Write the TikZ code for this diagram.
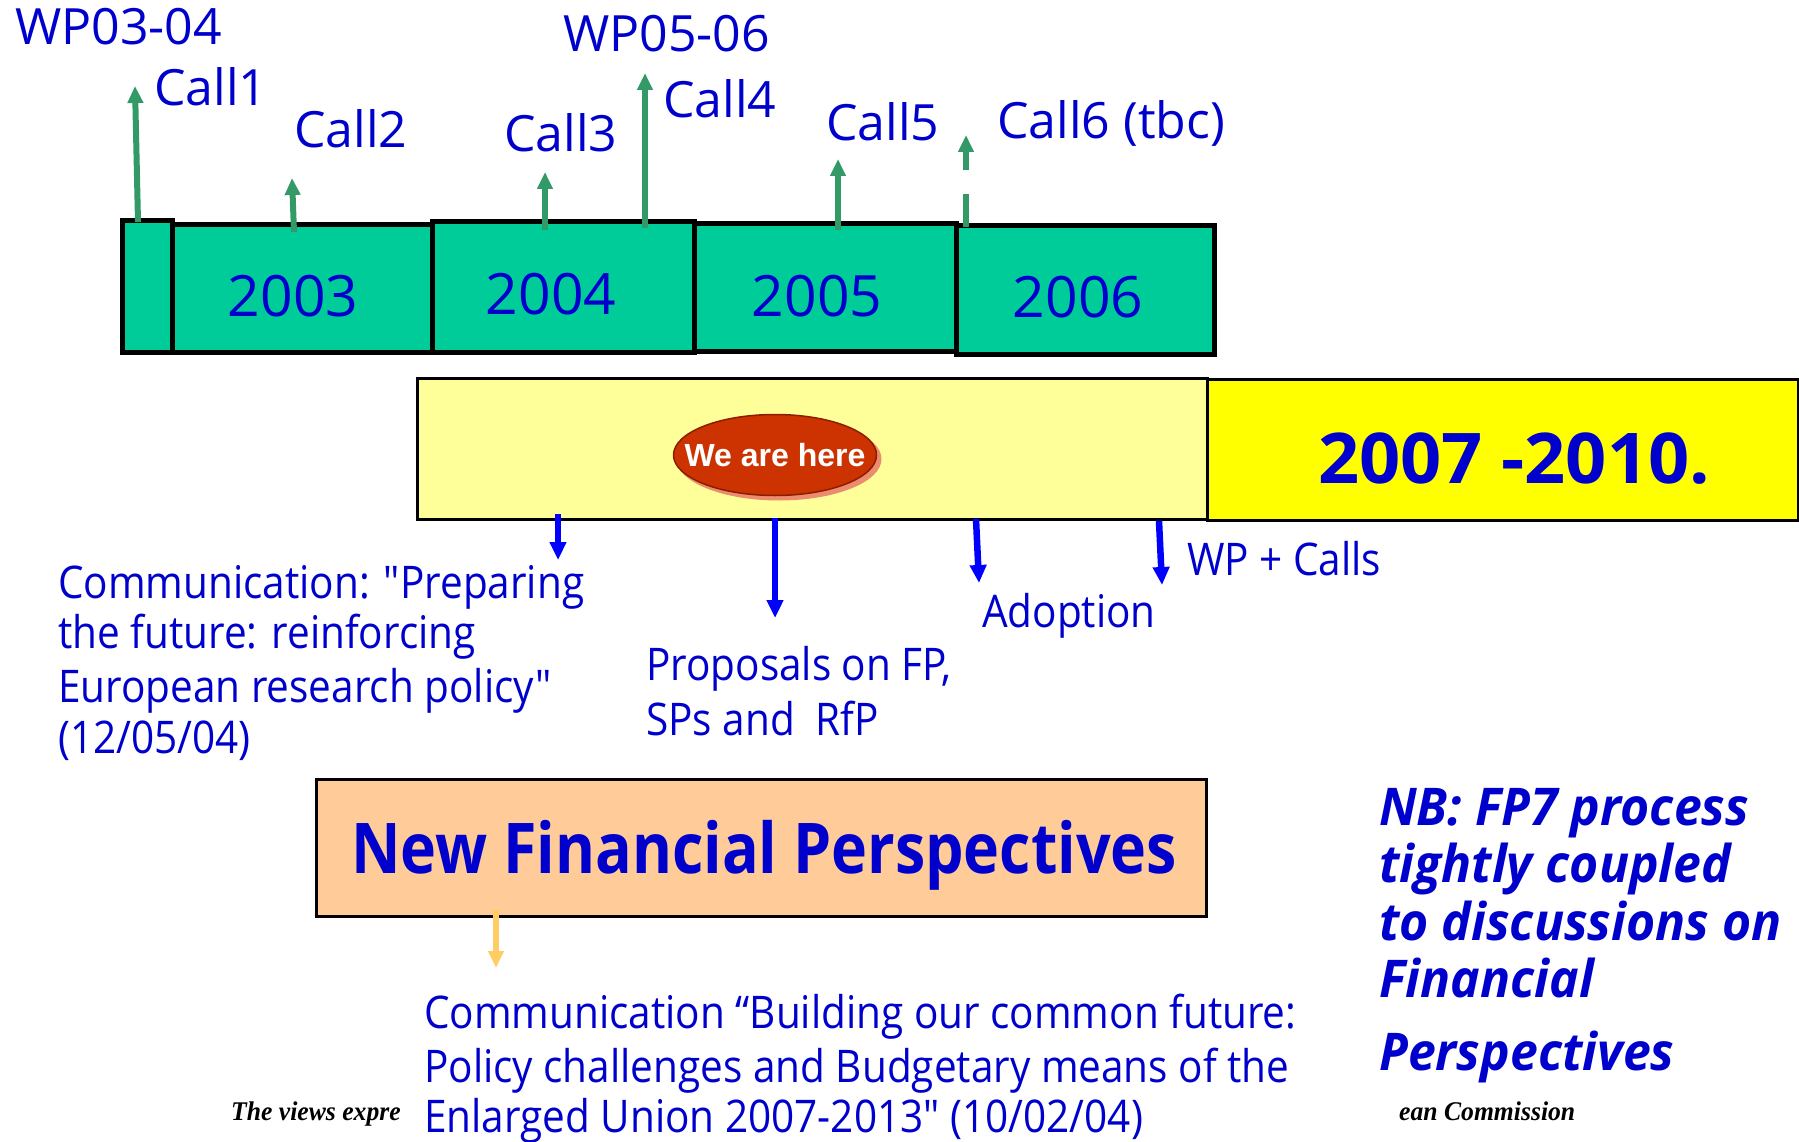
\documentclass[tikz,border=0pt]{standalone}
\usepackage{fontspec}
\setmainfont{Open Sans}
\newfontfamily\cs[FakeStretch=0.9]{Open Sans}
\newfontfamily\csw[FakeStretch=1.0]{Open Sans}
\newfontfamily\csbig[FakeStretch=0.87]{Open Sans}
\newfontfamily\csrange[FakeStretch=1.03]{Open Sans}
\newfontfamily\csnb[FakeStretch=0.96]{Open Sans}
\newfontfamily\arialf{Liberation Sans}
\newfontfamily\timesf[FakeStretch=0.95]{Liberation Serif}
\usetikzlibrary{arrows.meta,shapes.geometric}
\definecolor{txtblue}{RGB}{0,0,204}
\definecolor{cellgreen}{RGB}{0,204,153}
\definecolor{arrgreen}{RGB}{51,153,102}
\definecolor{arrblue}{RGB}{0,0,255}
\definecolor{lyellow}{RGB}{255,255,153}
\definecolor{byellow}{RGB}{255,255,0}
\definecolor{ovalred}{RGB}{204,51,0}
\definecolor{ovaledge}{RGB}{140,30,0}
\definecolor{ovalshadow}{RGB}{235,140,110}
\definecolor{orangebox}{RGB}{255,204,153}
\definecolor{orangearr}{RGB}{255,204,102}
\tikzset{
  cellbox/.style={draw=black, line width=5pt, fill=cellgreen, inner sep=0pt, anchor=north west},
  garrow/.style={draw=arrgreen, line width=6pt, -{Triangle[width=15pt,length=17pt]}},
  barrow/.style={draw=arrblue, line width=6.5pt, -{Triangle[width=16pt,length=18pt]}},
  oarrow/.style={draw=orangearr, line width=6pt, -{Triangle[width=15pt,length=17pt]}},
  lbl/.style={text=txtblue, inner sep=0pt, anchor=base west},
  callf/.style={font=\csw\fontsize{50}{60}\selectfont},
  yearf/.style={font=\csw\fontsize{57}{66}\selectfont, anchor=base},
  bodyf/.style={font=\cs\fontsize{45}{54}\selectfont},
  bigbf/.style={font=\csbig\bfseries\fontsize{70}{80}\selectfont},
  rangef/.style={font=\csrange\bfseries\fontsize{70}{80}\selectfont},
  nbf/.style={font=\csnb\bfseries\itshape\fontsize{52}{60}\selectfont},
  footf/.style={font=\timesf\bfseries\itshape\fontsize{27}{32}\selectfont, text=black, inner sep=0pt, anchor=base west},
  panel/.style={draw=black, line width=3pt, inner sep=0pt, anchor=north west}
}
\begin{document}
\begin{tikzpicture}[x=1pt,y=-1pt]
\useasboundingbox (0,0) rectangle (1799,1142);
% timeline cells
\node[cellbox, minimum width=50pt, minimum height=132pt] (c0) at (120,218) {};
\node[cellbox, minimum width=260pt, minimum height=128pt] (c03) at (170,222) {};
\node[cellbox, minimum width=262pt, minimum height=131pt] (c04) at (430,219) {};
\node[cellbox, minimum width=262pt, minimum height=128pt] (c05) at (692,221) {};
\node[cellbox, minimum width=258pt, minimum height=129pt] (c06) at (954,223) {};
\node[lbl, yearf] (y03) at (293,316) {2003};
\node[lbl, yearf] (y04) at (551,314) {2004};
\node[lbl, yearf] (y05) at (817,316) {2005};
\node[lbl, yearf] (y06) at (1078,317) {2006};
% call arrows
\coordinate (b1) at (138,222); \coordinate (t1) at (135,86);
\coordinate (b2) at (294,232); \coordinate (t2) at (292,178);
\coordinate (b3) at (545,230); \coordinate (t3) at (545,172);
\coordinate (b4) at (645,228); \coordinate (t4) at (645,73);
\coordinate (b5) at (838,230); \coordinate (t5) at (838,159);
\coordinate (b6) at (966,227); \coordinate (t6) at (966,135);
\draw[garrow] (b1) -- (t1);
\draw[garrow] (b2) -- (t2);
\draw[garrow] (b3) -- (t3);
\draw[garrow] (b4) -- (t4);
\draw[garrow] (b5) -- (t5);
\draw[garrow, dash pattern=on 33pt off 24pt] (b6) -- (t6);
% labels top
\node[lbl, callf] (wp34) at (15,45) {WP03-04};
\node[lbl, callf] (wp56) at (563,52) {WP05-06};
\node[lbl, callf] (call1) at (154,106) {Call1};
\node[lbl, callf] (call2) at (294,148) {Call2};
\node[lbl, callf] (call3) at (504,152) {Call3};
\node[lbl, callf] (call4) at (663,118) {Call4};
\node[lbl, callf] (call5) at (826,141) {Call5};
\node[lbl, callf] (call6) at (997,139) {Call6 (tbc)};
% panels
\node[panel, fill=lyellow, minimum width=790pt, minimum height=141pt] (now) at (416,377) {};
\node[panel, fill=byellow, minimum width=591pt, minimum height=141pt] (future) at (1206,378) {};
\node[lbl, rangef] (range) at (1318,483) {2007 -2010.};
\node[ellipse, fill=ovalshadow, minimum width=205pt, minimum height=83pt, inner sep=0pt] (hereshadow) at (779,459) {};
\node[ellipse, fill=ovalred, draw=ovaledge, line width=1.5pt, minimum width=203pt, minimum height=81pt, inner sep=0pt] (here) at (775,455) {};
\node[text=white, inner sep=0pt, font=\arialf\bfseries\fontsize{32}{38}\selectfont] (heretxt) at (here.center) {We are here};
% blue arrows
\coordinate (s1) at (558,514); \coordinate (e1) at (558,560);
\coordinate (s2) at (775,518); \coordinate (e2) at (775,618);
\coordinate (s3) at (976,519); \coordinate (e3) at (979,583);
\coordinate (s4) at (1159,521); \coordinate (e4) at (1162,585);
\draw[barrow] (s1) -- (e1);
\draw[barrow] (s2) -- (e2);
\draw[barrow] (s3) -- (e3);
\draw[barrow] (s4) -- (e4);
\node[lbl, bodyf] (wpc) at (1187,575) {WP + Calls};
\node[lbl, bodyf] (adopt) at (982,627) {Adoption};
\node[lbl, bodyf] (prop1) at (646,680) {Proposals on FP,};
\node[lbl, bodyf] (prop2) at (646,735) {SPs and\ \ RfP};
\node[lbl, bodyf] (com1) at (58,598) {Communication: "Preparing};
\node[lbl, bodyf] (com2) at (58,648) {the future: reinforcing};
\node[lbl, bodyf] (com3) at (58,702) {European research policy"};
\node[lbl, bodyf] (com4) at (58,753) {(12/05/04)};
% financial perspectives
\node[panel, fill=orangebox, minimum width=890pt, minimum height=137pt] (nfpbox) at (315,778) {};
\node[lbl, bigbf] (nfp) at (351,873) {New Financial Perspectives};
\coordinate (so) at (496,910); \coordinate (eo) at (496,968);
\draw[oarrow] (so) -- (eo);
% footer
\node[footf] (f1) at (231,1120) {The views expre};
\node[footf] (f2) at (1399,1120) {ean Commission};
\node[lbl, bodyf] (bc1) at (424,1028) {Communication “Building our common future:};
\node[lbl, bodyf] (bc2) at (424,1082) {Policy challenges and Budgetary means of the};
\node[lbl, bodyf] (bc3) at (424,1132) {Enlarged Union 2007-2013" (10/02/04)};
% NB
\node[lbl, nbf] (nb1) at (1379,825) {NB: FP7 process};
\node[lbl, nbf] (nb2) at (1379,882) {tightly coupled};
\node[lbl, nbf] (nb3) at (1379,940) {to discussions on};
\node[lbl, nbf] (nb4) at (1379,997) {Financial};
\node[lbl, nbf] (nb5) at (1379,1070) {Perspectives};
\end{tikzpicture}
\end{document}
